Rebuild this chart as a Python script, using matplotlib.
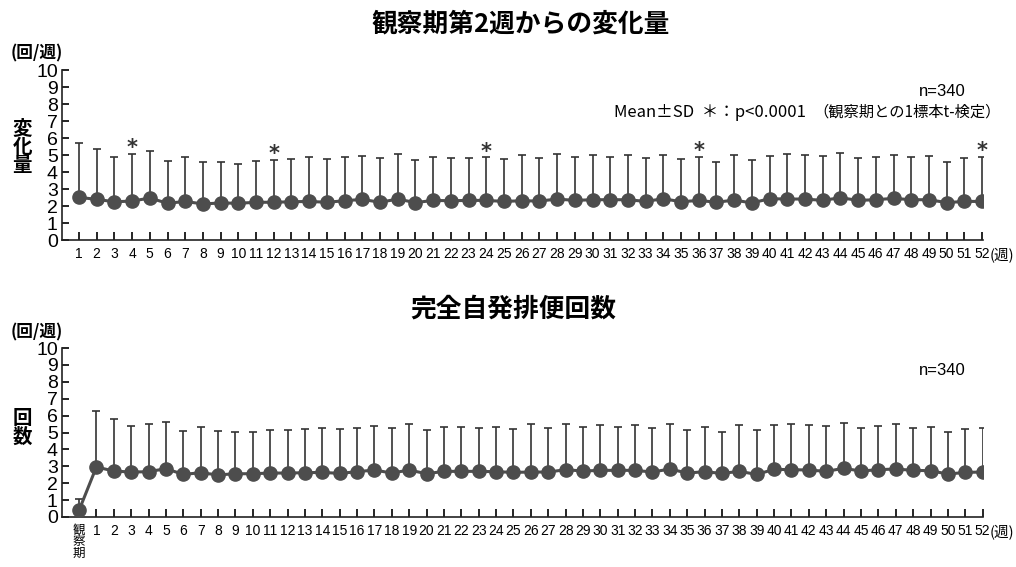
import matplotlib
matplotlib.use("Agg")
import matplotlib.pyplot as plt
import numpy as np

plt.rcParams['font.family'] = ['Noto Sans CJK JP', 'DejaVu Sans']

# 観察期第2週からの変化量 (週1-52)
weeks = list(range(1, 53))
chg_mean = [2.51, 2.39, 2.25, 2.29, 2.47, 2.16, 2.27, 2.12, 2.18, 2.16,
            2.22, 2.22, 2.25, 2.27, 2.22, 2.31, 2.39, 2.22, 2.41, 2.20,
            2.33, 2.31, 2.33, 2.33, 2.27, 2.31, 2.29, 2.41, 2.33, 2.37,
            2.37, 2.37, 2.27, 2.43, 2.25, 2.33, 2.22, 2.35, 2.18, 2.43,
            2.41, 2.41, 2.33, 2.49, 2.33, 2.37, 2.45, 2.37, 2.37, 2.20,
            2.27, 2.27]
chg_upper = [5.69, 5.33, 4.86, 5.06, 5.24, 4.67, 4.90, 4.61, 4.57, 4.47,
             4.63, 4.69, 4.76, 4.86, 4.75, 4.86, 4.92, 4.84, 5.06, 4.71,
             4.86, 4.82, 4.80, 4.86, 4.75, 5.02, 4.80, 5.04, 4.90, 4.98,
             4.88, 5.00, 4.84, 5.02, 4.75, 4.90, 4.61, 5.02, 4.71, 4.96,
             5.08, 5.02, 4.92, 5.14, 4.84, 4.90, 5.02, 4.88, 4.92, 4.57,
             4.80, 4.88]
sig_weeks = [4, 12, 24, 36, 52]

# 完全自発排便回数 (観察期 + 週1-52)
cnt_labels = ['観\n察\n期'] + [str(w) for w in weeks]
cnt_mean = [0.39, 2.96, 2.72, 2.66, 2.68, 2.86, 2.52, 2.62, 2.49, 2.56,
            2.56, 2.60, 2.60, 2.62, 2.64, 2.58, 2.68, 2.78, 2.60, 2.78,
            2.56, 2.70, 2.70, 2.70, 2.68, 2.64, 2.66, 2.66, 2.80, 2.72,
            2.76, 2.76, 2.76, 2.66, 2.84, 2.60, 2.68, 2.58, 2.70, 2.52,
            2.82, 2.80, 2.78, 2.70, 2.88, 2.72, 2.80, 2.84, 2.76, 2.74,
            2.54, 2.64, 2.66]
cnt_upper = [1.06, 6.25, 5.80, 5.36, 5.52, 5.64, 5.11, 5.33, 5.09, 5.05,
             5.01, 5.15, 5.17, 5.23, 5.29, 5.21, 5.29, 5.38, 5.27, 5.50,
             5.17, 5.35, 5.33, 5.27, 5.33, 5.21, 5.50, 5.29, 5.50, 5.33,
             5.42, 5.35, 5.46, 5.29, 5.48, 5.15, 5.35, 5.05, 5.46, 5.15,
             5.42, 5.52, 5.44, 5.36, 5.58, 5.29, 5.36, 5.48, 5.29, 5.35,
             5.01, 5.21, 5.27]

dark = '#4d4d4d'
num_font = ['Liberation Sans', 'DejaVu Sans']

fig = plt.figure(figsize=(10.16, 5.67), dpi=100)


def draw_panel(ax, x, mean, upper, labels, xlim):
    mean = np.array(mean)
    sd = np.array(upper) - mean
    ax.errorbar(x, mean, yerr=[np.zeros_like(sd), sd], fmt='none',
                ecolor='#333333', elinewidth=1.2, capsize=3, capthick=1.2, zorder=1)
    ax.plot(x, mean, color=dark, lw=2.2, marker='o', ms=9.5,
            mfc=dark, mec=dark, zorder=3)
    ax.set_xlim(*xlim)
    ax.set_ylim(0, 10)
    ax.set_yticks(range(0, 11))
    ax.set_yticklabels([str(v) for v in range(0, 11)], fontsize=14, family=num_font)
    ax.set_xticks(x)
    ax.set_xticklabels(labels, fontsize=10, family=num_font)
    ax.tick_params(axis='y', direction='in', length=5, width=1.2, pad=3)
    ax.tick_params(axis='x', direction='in', length=6, width=1.2, pad=5)
    for s in ['top', 'right']:
        ax.spines[s].set_visible(False)
    for s in ['left', 'bottom']:
        ax.spines[s].set_linewidth(1.2)
        ax.spines[s].set_color('#222222')


# 上段
ax1 = fig.add_axes([0.061, 0.5767, 0.9065, 0.2998])
draw_panel(ax1, weeks, chg_mean, chg_upper, [str(w) for w in weeks], (0.04, 52.05))
for w in sig_weeks:
    ax1.annotate('*', (w, chg_upper[w - 1]), xytext=(0, -3), textcoords='offset points',
                 ha='center', va='bottom', fontsize=15, fontweight='bold',
                 family='DejaVu Sans', color='#333333')
fig.text(0.512, 0.958, '観察期第2週からの変化量', ha='center', va='center',
         fontsize=18.5, fontweight='bold')
fig.text(0.010, 0.905, '(回/週)', ha='left', va='center', fontsize=12, fontweight='bold')
fig.text(0.022, 0.74, '変\n化\n量', ha='center', va='center', fontsize=14,
         fontweight='bold', linespacing=0.95)
fig.text(0.95, 0.838, 'n=340', ha='right', va='center', fontsize=12, family=num_font)
fig.text(0.604, 0.802, 'Mean±SD  ＊：p<0.0001', ha='left', va='center', fontsize=12)
fig.text(0.985, 0.802, '（観察期との1標本t-検定）', ha='right', va='center', fontsize=11)
ax1.text(52.42, -0.95, '(週)', ha='left', va='center', fontsize=10.5, clip_on=False)

# 下段
ax2 = fig.add_axes([0.061, 0.0882, 0.9065, 0.298])
draw_panel(ax2, list(range(0, 53)), cnt_mean, cnt_upper, cnt_labels, (-0.98, 52.02))
lab0 = ax2.get_xticklabels()[0]
lab0.set_fontsize(9)
lab0.set_linespacing(0.85)
lab0.set_family(['Noto Sans CJK JP', 'DejaVu Sans'])
fig.text(0.505, 0.455, '完全自発排便回数', ha='center', va='center',
         fontsize=18.5, fontweight='bold')
fig.text(0.010, 0.413, '(回/週)', ha='left', va='center', fontsize=12, fontweight='bold')
fig.text(0.022, 0.245, '回\n数', ha='center', va='center', fontsize=14,
         fontweight='bold', linespacing=0.95)
fig.text(0.95, 0.347, 'n=340', ha='right', va='center', fontsize=12, family=num_font)
ax2.text(52.42, -0.95, '(週)', ha='left', va='center', fontsize=10.5, clip_on=False)

fig.savefig('out.png', dpi=100)
